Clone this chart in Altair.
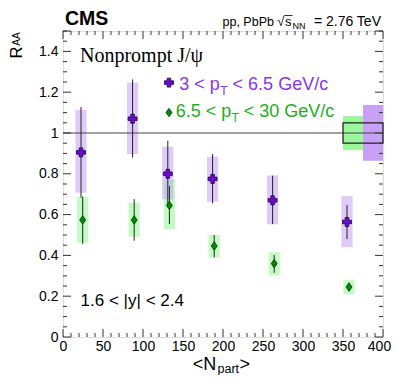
import altair as alt
import pandas as pd
import numpy as np

# ---------------- data ----------------
# 3 < pT < 6.5 GeV/c
NPART_LO = [22.5, 87, 131, 187, 262, 355]
RAA_LO = [0.905, 1.07, 0.80, 0.775, 0.67, 0.564]
STAT_UP_LO = [1.127, 1.263, 0.962, 0.897, 0.791, 0.647]
STAT_DN_LO = [0.683, 0.879, 0.638, 0.655, 0.554, 0.480]
SYS_UP_LO = [1.113, 1.247, 0.933, 0.884, 0.792, 0.691]
SYS_DN_LO = [0.707, 0.897, 0.675, 0.663, 0.552, 0.440]

# 6.5 < pT < 30 GeV/c
NPART_HI = [24.6, 89, 133, 189, 264, 357.5]
RAA_HI = [0.574, 0.574, 0.645, 0.446, 0.360, 0.245]
STAT_UP_HI = [0.688, 0.676, 0.740, 0.500, 0.402, 0.265]
STAT_DN_HI = [0.456, 0.472, 0.554, 0.390, 0.315, 0.225]
SYS_UP_HI = [0.688, 0.658, 0.770, 0.500, 0.415, 0.279]
SYS_DN_HI = [0.462, 0.492, 0.528, 0.390, 0.302, 0.209]

BOX_HALF = 7  # half width (in Npart) of systematic boxes

# global uncertainties at unity
GLOBAL_HI_X = [350, 375]
GLOBAL_HI_Y = [0.917, 1.083]
GLOBAL_LO_X = [375, 400]
GLOBAL_LO_Y = [0.864, 1.137]
GLOBAL_PP_X = [350, 400]
GLOBAL_PP_Y = [0.95, 1.05]
UNITY = 1.0

X_TICKS = [0, 50, 100, 150, 200, 250, 300, 350, 400]
Y_TICKS = [0, 0.2, 0.4, 0.6, 0.8, 1, 1.2, 1.4]
X_MINOR = [v for v in range(0, 401, 10) if v % 50 != 0]
Y_MINOR = [round(v, 2) for v in np.arange(0, 1.501, 0.05) if round(v * 100) % 20 != 0]

# ---------------- style ----------------
W, H = 320, 306
FONT = "Liberation Sans"
PURPLE_MARK = "#6a0dcc"
PURPLE_EDGE = "#1e0040"
GREEN_MARK = "#008c00"
GREEN_EDGE = "#003300"
PURPLE_BOX = "#c4a0f5"
GREEN_BOX = "#8af58a"
PURPLE_GLOBAL = "#c8a0f6"
GREEN_GLOBAL = "#9cf79c"
PURPLE_TEXT = "#8a35e6"
GREEN_TEXT = "#22ad22"
DIAMOND = "M0,-1L0.7,0L0,1L-0.7,0Z"

xs = alt.Scale(domain=[0, 400], nice=False, zero=False)
ys = alt.Scale(domain=[0, 1.5], nice=False, zero=False)
xaxis = alt.Axis(values=X_TICKS, ticks=False, domain=False, grid=False,
                 labelFontSize=14, labelFont=FONT, labelColor="black",
                 labelPadding=2, labelFlush=False, labelOverlap=False, title=None,
                 labelOffset={"condition": {"test": "datum.value == 400", "value": -4},
                              "value": 0})
yaxis = alt.Axis(values=Y_TICKS, format="~g", ticks=False, domain=False, grid=False,
                 labelFontSize=14, labelFont=FONT, labelColor="black",
                 labelPadding=5, labelFlush=False, labelOverlap=False, title=None)


def X(f):
    return alt.X(f, type="quantitative", scale=xs, axis=xaxis)


def Y(f):
    return alt.Y(f, type="quantitative", scale=ys, axis=yaxis)


def X2(f):
    return alt.X2(f)


def Y2(f):
    return alt.Y2(f)


lo = pd.DataFrame({"n": NPART_LO, "r": RAA_LO, "su": STAT_UP_LO, "sd": STAT_DN_LO,
                   "yu": SYS_UP_LO, "yd": SYS_DN_LO})
hi = pd.DataFrame({"n": NPART_HI, "r": RAA_HI, "su": STAT_UP_HI, "sd": STAT_DN_HI,
                   "yu": SYS_UP_HI, "yd": SYS_DN_HI})
for d in (lo, hi):
    d["x1"] = d["n"] - BOX_HALF
    d["x2"] = d["n"] + BOX_HALF

layers = []

# systematic boxes
layers.append(alt.Chart(hi).mark_rect(fill=GREEN_BOX, opacity=0.5).encode(
    x=X("x1"), x2=X2("x2"), y=Y("yd"), y2=Y2("yu")))
layers.append(alt.Chart(lo).mark_rect(fill=PURPLE_BOX, opacity=0.55).encode(
    x=X("x1"), x2=X2("x2"), y=Y("yd"), y2=Y2("yu")))

# global uncertainty boxes
g = pd.DataFrame({"x1": [GLOBAL_HI_X[0], GLOBAL_LO_X[0]], "x2": [GLOBAL_HI_X[1], GLOBAL_LO_X[1]],
                  "y1": [GLOBAL_HI_Y[0], GLOBAL_LO_Y[0]], "y2": [GLOBAL_HI_Y[1], GLOBAL_LO_Y[1]],
                  "c": [GREEN_GLOBAL, PURPLE_GLOBAL]})
layers.append(alt.Chart(g).mark_rect(opacity=1).encode(
    x=X("x1"), x2=X2("x2"), y=Y("y1"), y2=Y2("y2"),
    fill=alt.Fill("c:N", scale=None)))

# unity line
layers.append(alt.Chart(pd.DataFrame({"a": [0], "b": [400], "y": [UNITY]})).mark_rule(
    color="#444444", strokeWidth=1).encode(x=X("a"), x2=X2("b"), y=Y("y")))

# pp box
layers.append(alt.Chart(pd.DataFrame({"x1": [GLOBAL_PP_X[0]], "x2": [GLOBAL_PP_X[1]],
                                      "y1": [GLOBAL_PP_Y[0]], "y2": [GLOBAL_PP_Y[1]]})).mark_rect(
    fill=None, fillOpacity=0, stroke="#222222", strokeWidth=1.3).encode(
    x=X("x1"), x2=X2("x2"), y=Y("y1"), y2=Y2("y2")))

# stat error bars
for d in (hi, lo):
    layers.append(alt.Chart(d).mark_rule(color="#222222", strokeWidth=1).encode(
        x=X("n"), y=Y("sd"), y2=Y2("su")))

# markers
layers.append(alt.Chart(hi).mark_point(shape=DIAMOND, filled=True, size=72, fill=GREEN_MARK,
                                        stroke=GREEN_EDGE, strokeWidth=0.8, opacity=1).encode(
    x=X("n"), y=Y("r")))
layers.append(alt.Chart(lo).mark_point(shape="cross", filled=True, size=80, fill=PURPLE_MARK,
                                        stroke=PURPLE_EDGE, strokeWidth=0.8, opacity=1).encode(
    x=X("n"), y=Y("r")))

# legend markers
LEG_X = [132.5]
layers.append(alt.Chart(pd.DataFrame({"n": LEG_X, "r": [1.247]})).mark_point(
    shape="cross", filled=True, size=80, fill=PURPLE_MARK, stroke=PURPLE_EDGE,
    strokeWidth=0.8, opacity=1).encode(x=X("n"), y=Y("r")))
layers.append(alt.Chart(pd.DataFrame({"n": LEG_X, "r": [1.10]})).mark_point(
    shape=DIAMOND, filled=True, size=72, fill=GREEN_MARK, stroke=GREEN_EDGE,
    strokeWidth=0.8, opacity=1).encode(x=X("n"), y=Y("r")))


def dtext(x, y, s, size, color="black", font=FONT, weight="normal", align="left"):
    return alt.Chart(pd.DataFrame({"x": [x], "y": [y], "t": [s]})).mark_text(
        fontSize=size, font=font, color=color, fontWeight=weight, align=align,
        baseline="alphabetic").encode(x=X("x"), y=Y("y"), text="t:N")


def ptext(x, y, s, size, color="black", font=FONT, weight="normal", align="left",
          baseline="alphabetic", angle=0):
    return alt.Chart(pd.DataFrame({"t": [s]})).mark_text(
        fontSize=size, font=font, color=color, fontWeight=weight, align=align,
        baseline=baseline, angle=angle).encode(x=alt.value(x), y=alt.value(y), text="t:N")


# in-plot annotations
layers.append(dtext(21.25, 1.348, "Nonprompt J/ψ", 20, font="Liberation Serif"))
layers.append(dtext(22, 0.152, "1.6 < |y| < 2.4", 17))
layers.append(dtext(145.4, 1.211, "3 < p", 18, color=PURPLE_TEXT))
layers.append(dtext(196.6, 1.187, "T", 12, color=PURPLE_TEXT))
layers.append(dtext(212.0, 1.211, "< 6.5 GeV/c", 18, color=PURPLE_TEXT))
layers.append(dtext(140.9, 1.080, "6.5 < p", 18, color=GREEN_TEXT))
layers.append(dtext(210.6, 1.056, "T", 12, color=GREEN_TEXT))
layers.append(dtext(226.0, 1.080, "< 30 GeV/c", 18, color=GREEN_TEXT))

# header (pixel offsets from the plot's top-left corner)
layers.append(ptext(2, -6, "CMS", 19.5, weight="bold"))
layers.append(ptext(159.5, -5, "pp, PbPb", 12.5))
layers.append(ptext(214.3, -5, "√", 13))
layers.append(ptext(222, -5, "s", 13))
layers.append(ptext(229.5, -2, "NN", 9))
layers.append(ptext(318, -5, "= 2.76 TeV", 14, align="right"))
layers.append(alt.Chart(pd.DataFrame({"a": [0]})).mark_rule(color="black", strokeWidth=0.8).encode(
    x=alt.value(221.3), x2=alt.value(229.5), y=alt.value(-15.5)))

# axis titles
layers.append(ptext(-46, 21.5, "R", 16.5, align="center", baseline="middle", angle=270))
layers.append(ptext(-46, 8, "AA", 10, align="center", baseline="middle", angle=270))
layers.append(ptext(129.7, 339, "<N", 18))
layers.append(ptext(154.5, 341.5, "part", 12.5))
layers.append(ptext(176.5, 339, ">", 18))

# inward ticks on all four sides
TICK_MAJ, TICK_MIN = 8, 4
ydf_maj = pd.DataFrame({"v": Y_TICKS + [1.5]})
ydf_min = pd.DataFrame({"v": Y_MINOR})
xdf_maj = pd.DataFrame({"v": X_TICKS})
xdf_min = pd.DataFrame({"v": X_MINOR})
for df, L in ((ydf_maj, TICK_MAJ), (ydf_min, TICK_MIN)):
    layers.append(alt.Chart(df).mark_rule(color="#333333", strokeWidth=1).encode(
        y=Y("v"), x=alt.value(0), x2=alt.value(L)))
    layers.append(alt.Chart(df).mark_rule(color="#333333", strokeWidth=1).encode(
        y=Y("v"), x=alt.value(W - L), x2=alt.value(W)))
for df, L in ((xdf_maj, TICK_MAJ), (xdf_min, TICK_MIN)):
    layers.append(alt.Chart(df).mark_rule(color="#333333", strokeWidth=1).encode(
        x=X("v"), y=alt.value(H), y2=alt.value(H - L)))
    layers.append(alt.Chart(df).mark_rule(color="#333333", strokeWidth=1).encode(
        x=X("v"), y=alt.value(0), y2=alt.value(L)))

chart = alt.layer(*layers).properties(
    width=W, height=H,
    padding={"left": 55, "top": 23, "right": 8, "bottom": 38},
    autosize=alt.AutoSizeParams(type="none"),
).configure_view(stroke="#222222", strokeWidth=1.2).configure(background="white")

chart.save("out.html", embed_options={"renderer": "svg", "actions": False})
